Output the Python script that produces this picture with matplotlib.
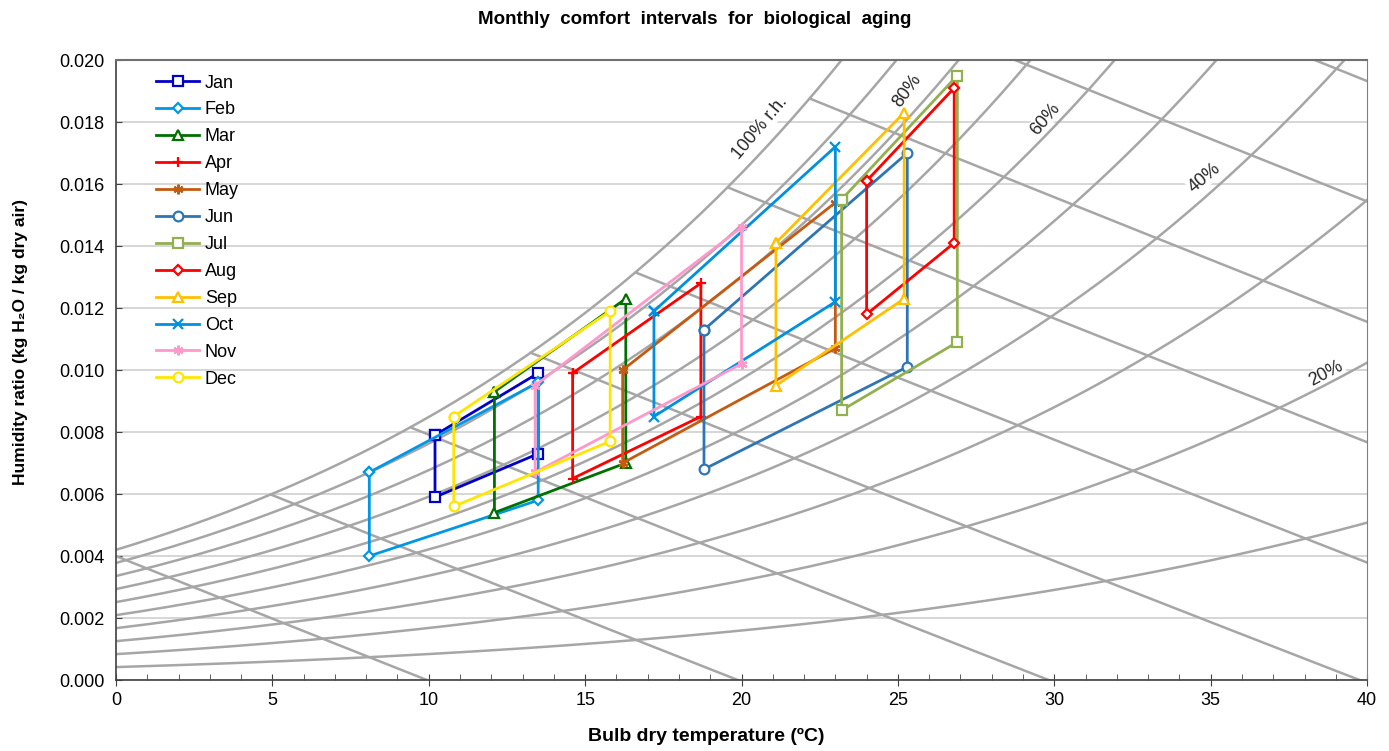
import numpy as np
import matplotlib
matplotlib.use('Agg')
import matplotlib.pyplot as plt

plt.rcParams['font.family'] = ['Liberation Sans', 'DejaVu Sans']

# ---------------- data ----------------
months = ['Jan', 'Feb', 'Mar', 'Apr', 'May', 'Jun',
          'Jul', 'Aug', 'Sep', 'Oct', 'Nov', 'Dec']
t_min = [10.2, 8.1, 12.1, 14.6, 16.2, 18.8, 23.2, 24.0, 21.1, 17.2, 13.4, 10.8]
t_max = [13.5, 13.5, 16.3, 18.7, 23.0, 25.3, 26.9, 26.8, 25.2, 23.0, 20.0, 15.8]
w_hi_tmin = [0.0079, 0.0067, 0.0093, 0.0099, 0.0100, 0.0113,
             0.0155, 0.0161, 0.0141, 0.0119, 0.0095, 0.0085]
w_lo_tmin = [0.0059, 0.0040, 0.0054, 0.0065, 0.0070, 0.0068,
             0.0087, 0.0118, 0.0095, 0.0085, 0.0067, 0.0056]
w_lo_tmax = [0.0073, 0.0058, 0.0070, 0.0085, 0.0107, 0.0101,
             0.0109, 0.0141, 0.0123, 0.0122, 0.0102, 0.0077]
w_hi_tmax = [0.0099, 0.0096, 0.0123, 0.0128, 0.0154, 0.0170,
             0.0195, 0.0191, 0.0183, 0.0172, 0.0146, 0.0119]

colors = ['#0000C8', '#0098E6', '#007000', '#FF0000', '#C55A11', '#2E75B6',
          '#92B050', '#FF0000', '#FFC000', '#0090E0', '#FF99CC', '#FFE600']
markers = ['s', 'D', '^', '+', (6, 2, 0), 'o',
           's', 'D', '^', 'x', (6, 2, 0), 'o']

# psychrometric background
pressure_kpa = 91.1
rh_levels = [10, 20, 30, 40, 50, 60, 70, 80, 90, 100]
h_levels = [10, 20, 30, 40, 50, 60, 70, 80, 90]
rh_labels = ['100% r.h.', '80%', '60%', '40%', '20%']
rh_label_t = [20.6, 25.3, 29.7, 34.8, 38.7]
rh_label_w = [0.0178, 0.0190, 0.0181, 0.0162, 0.0099]
rh_label_rot = [50, 54, 50, 40, 28]

x_ticks = [0, 5, 10, 15, 20, 25, 30, 35, 40]
y_ticks = [0.000, 0.002, 0.004, 0.006, 0.008, 0.010,
           0.012, 0.014, 0.016, 0.018, 0.020]

# ---------------- figure ----------------
fig = plt.figure(figsize=(13.89, 7.51), dpi=100)
ax = fig.add_axes([0.0835, 0.0945, 0.9007, 0.8256])


def psat(T):
    return 0.61094 * np.exp(17.625 * T / (T + 243.04))


T = np.linspace(-2, 42, 4000)
ps = psat(T)
wsat = 0.622 * ps / (pressure_kpa - ps)
curve_col = '#A6A6A6'
for rh in rh_levels:
    pv = rh / 100.0 * ps
    w = 0.622 * pv / (pressure_kpa - pv)
    ax.plot(T, w, color=curve_col, lw=1.8, zorder=1)

for h in h_levels:
    w = (h - 1.006 * T) / (2501 + 1.86 * T)
    m = (w <= wsat) & (w >= -0.0003)
    ax.plot(T[m], w[m], color=curve_col, lw=1.8, zorder=1)

for lab, tx, wy, rot in zip(rh_labels, rh_label_t, rh_label_w, rh_label_rot):
    ax.text(tx, wy, lab, rotation=rot, ha='center', va='center',
            fontsize=13, color='#262626', zorder=0.8,
            bbox=dict(fc='white', ec='none', pad=0.5))

# month polygons
for i, mth in enumerate(months):
    xs = [t_min[i], t_min[i], t_max[i], t_max[i], t_min[i]]
    ys = [w_hi_tmin[i], w_lo_tmin[i], w_lo_tmax[i], w_hi_tmax[i], w_hi_tmin[i]]
    mk = markers[i]
    ms = 7
    if mk == 'D':
        ms = 5.5
    ax.plot(xs, ys, color=colors[i], lw=2, marker=mk, markersize=ms,
            markerfacecolor='white', markeredgecolor=colors[i],
            markeredgewidth=1.6, label=mth, zorder=3)

ax.set_xlim(0, 40)
ax.set_ylim(0, 0.020)
ax.set_xticks(x_ticks)
ax.set_xticks(np.arange(0, 41, 1), minor=True)
ax.set_yticks(y_ticks)
ax.set_yticklabels(['%.3f' % v for v in y_ticks])
ax.tick_params(axis='x', which='major', direction='inout', length=9,
               labelsize=13, color='#404040', pad=4)
ax.tick_params(axis='x', which='minor', direction='in', length=4,
               color='#404040')
ax.tick_params(axis='y', which='major', direction='in', length=4,
               labelsize=13, color='#404040', pad=8)

ax.grid(axis='y', color='#D0D0D0', lw=1.2, zorder=0.5)
ax.set_axisbelow(True)
for s in ['left', 'bottom']:
    ax.spines[s].set_color('#404040')
    ax.spines[s].set_linewidth(1.2)
ax.spines['top'].set_color('#707070')
ax.spines['right'].set_color('#808080')
ax.spines['top'].set_linewidth(1.5)

ax.set_xlabel('Bulb dry temperature (ºC)', fontsize=14, fontweight='bold')
ax.xaxis.set_label_coords(0.472, -0.078)
ax.set_ylabel('Humidity ratio (kg H\u2082O / kg dry air)', fontsize=12.5,
              fontweight='bold')
ax.yaxis.set_label_coords(-0.07, 0.545)
fig.suptitle('Monthly  comfort  intervals  for  biological  aging',
             fontsize=13.5, fontweight='bold', y=0.985)

leg = ax.legend(loc='upper left', bbox_to_anchor=(0.022, 0.997), frameon=False,
                fontsize=13, handlelength=2.4, labelspacing=0.55,
                handletextpad=0.3, borderaxespad=0.3)

fig.savefig('out.png', dpi=100)
